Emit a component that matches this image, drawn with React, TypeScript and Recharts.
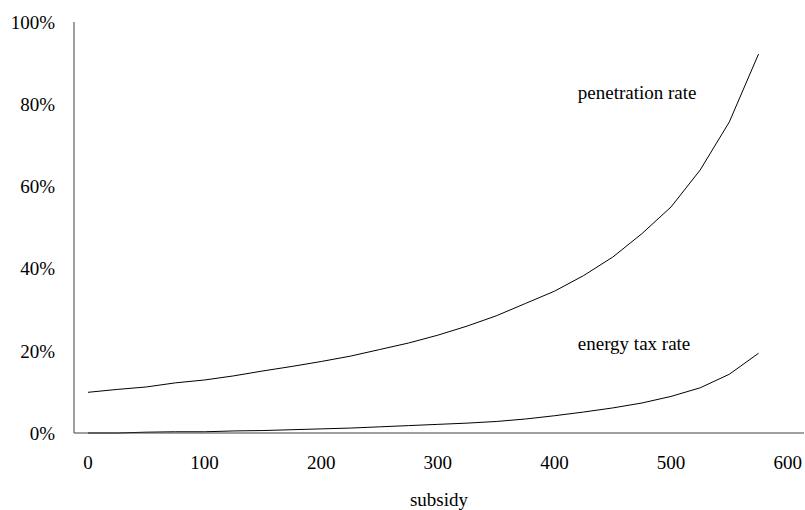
import { Label, Line, LineChart, ReferenceDot, XAxis, YAxis } from "recharts";

const subsidies = [
  0, 25, 50, 75, 100, 125, 150, 175, 200, 225, 250, 275, 300, 325, 350, 375, 400, 425, 450, 475,
  500, 525, 550, 575,
];
const penetrationRate = [
  0.099, 0.106, 0.112, 0.122, 0.129, 0.139, 0.151, 0.162, 0.174, 0.187, 0.203, 0.219, 0.238, 0.26,
  0.285, 0.315, 0.345, 0.383, 0.428, 0.485, 0.55, 0.64, 0.757, 0.922,
];
const energyTaxRate = [
  0, 0, 0.002, 0.003, 0.003, 0.005, 0.006, 0.008, 0.01, 0.012, 0.015, 0.018, 0.021, 0.024, 0.028,
  0.034, 0.042, 0.051, 0.061, 0.073, 0.089, 0.11, 0.143, 0.194,
];
const xTicks = [0, 100, 200, 300, 400, 500, 600];
const yTicks = [0, 0.2, 0.4, 0.6, 0.8, 1];

const data = subsidies.map((s, i) => ({
  subsidy: s,
  penetration: penetrationRate[i],
  energyTax: energyTaxRate[i],
}));

const FONT = "Liberation Serif";
const SIZE = 19;

function XTick(props: any) {
  const { x, y, payload } = props;
  return (
    <text x={x} y={y} dy="0.71em" textAnchor="middle" fontFamily={FONT} fontSize={SIZE} fill="#000">
      {payload.value}
    </text>
  );
}

function YTick(props: any) {
  const { x, y, payload } = props;
  return (
    <text x={x} y={y} dy="0.355em" textAnchor="end" fontFamily={FONT} fontSize={SIZE} fill="#000">
      {`${Math.round(payload.value * 100)}%`}
    </text>
  );
}

function SeriesLabel(props: any) {
  const { viewBox, value } = props;
  return (
    <text
      x={viewBox.x}
      y={viewBox.y}
      dy="0.355em"
      textAnchor="start"
      fontFamily={FONT}
      fontSize={SIZE}
      fill="#000"
    >
      {value}
    </text>
  );
}

function AxisTitle(props: any) {
  const { viewBox, value } = props;
  return (
    <text
      x={viewBox.x + viewBox.width / 2}
      y={viewBox.y + 73}
      textAnchor="middle"
      fontFamily={FONT}
      fontSize={SIZE}
      fill="#000"
    >
      {value}
    </text>
  );
}

export default function App() {
  return (
    <div style={{ position: "absolute", left: 0, top: 0, background: "#fff" }}>
      <LineChart width={805} height={510} data={data} margin={{ top: 22, right: 1, left: 0, bottom: 0 }}>
        <XAxis
          dataKey="subsidy"
          type="number"
          domain={[-12, 614]}
          ticks={xTicks}
          tickLine={false}
          tickSize={0}
          tickMargin={23}
          height={77}
          stroke="#404040"
          tick={XTick}
        >
          <Label value="subsidy" content={AxisTitle} />
        </XAxis>
        <YAxis
          type="number"
          domain={[0, 1]}
          ticks={yTicks}
          tickLine={false}
          tickSize={0}
          tickMargin={19}
          width={74}
          stroke="#404040"
          tick={YTick}
        />
        <Line
          dataKey="penetration"
          stroke="#000"
          strokeWidth={1}
          dot={false}
          type="linear"
          isAnimationActive={false}
        />
        <Line
          dataKey="energyTax"
          stroke="#000"
          strokeWidth={1}
          dot={false}
          type="linear"
          isAnimationActive={false}
        />
        <ReferenceDot x={420} y={0.829} r={0} fill="none" stroke="none">
          <Label value="penetration rate" content={SeriesLabel} />
        </ReferenceDot>
        <ReferenceDot x={420} y={0.218} r={0} fill="none" stroke="none">
          <Label value="energy tax rate" content={SeriesLabel} />
        </ReferenceDot>
      </LineChart>
    </div>
  );
}
